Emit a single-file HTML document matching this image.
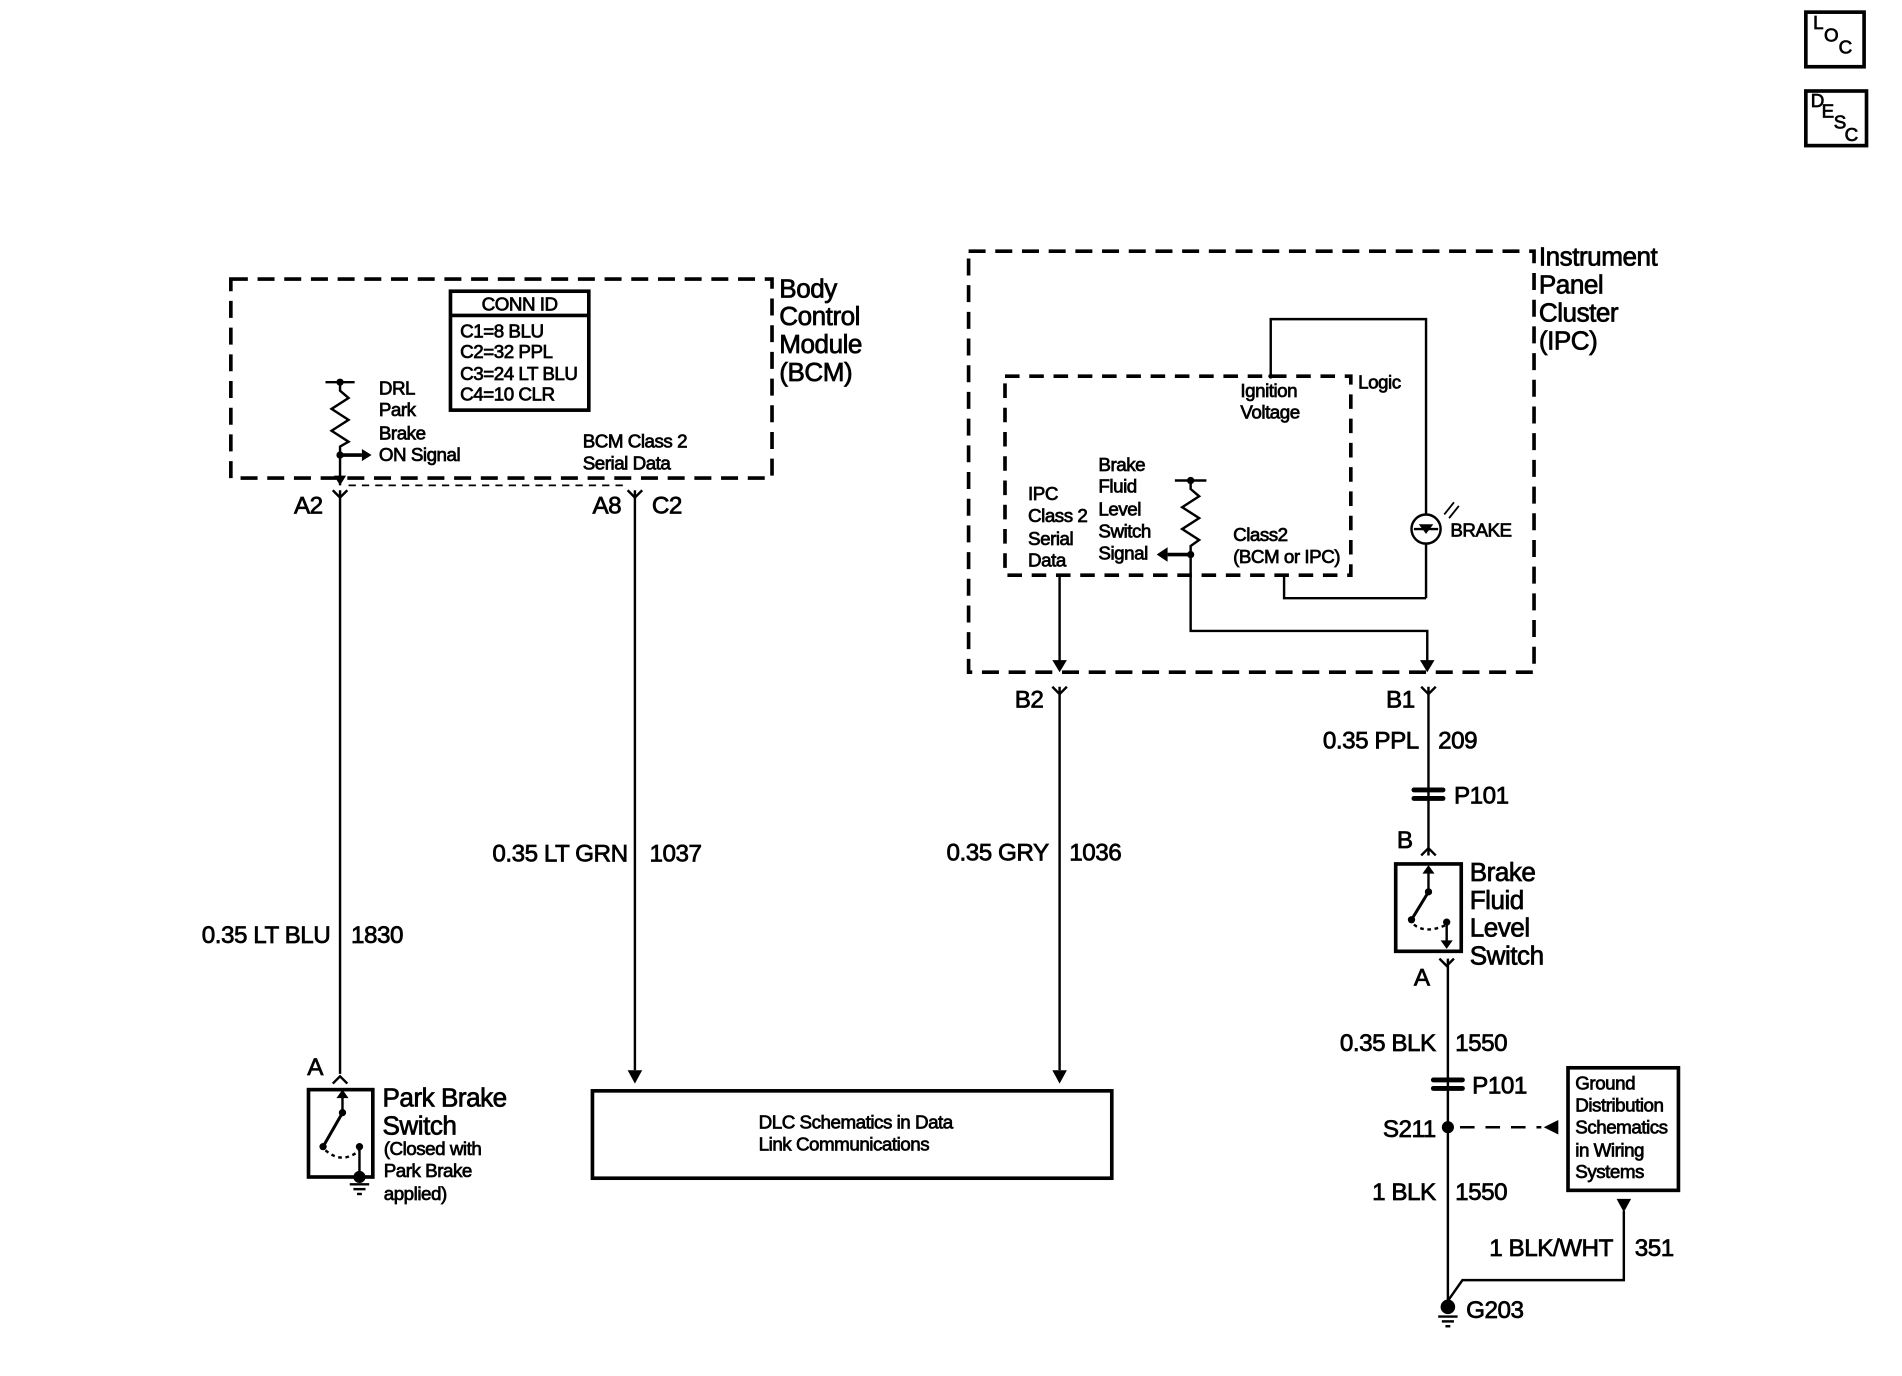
<!DOCTYPE html>
<html><head><meta charset="utf-8"><style>
html,body{margin:0;padding:0;background:#fff;}
svg{display:block}
text{font-family:"Liberation Sans",Arial,sans-serif;fill:#000;stroke:#000;stroke-width:0.6;letter-spacing:-0.4px}
.s{font-size:15.5px}
.m{font-size:20px}
.l{font-size:21.5px}
</style></head><body>
<svg width="1902" height="1376" viewBox="0 0 1567 1134" xmlns="http://www.w3.org/2000/svg">
<g fill="none" stroke="#000" stroke-width="2">
<rect x="1488" y="10" width="48" height="45" stroke-width="3"/>
<rect x="1488" y="75" width="50" height="45" stroke-width="3"/>
<rect x="190" y="230" width="446" height="164" stroke-width="3" stroke-dasharray="14,8"/>
<rect x="371" y="240" width="114" height="98" stroke-width="3"/>
<line x1="371" y1="260" x2="485" y2="260" stroke-width="3"/>
<line x1="268" y1="315" x2="292" y2="315"/>
<polyline points="280,315 280,322 287,328 273,337 287,346 273,355 287,364 280,368 280,400"/>
<line x1="280" y1="375" x2="298" y2="375" stroke-width="3"/>
<line x1="287" y1="400" x2="518" y2="400" stroke-dasharray="6,5" stroke-width="1.5"/>
<polyline points="274,404 280,410 286,404"/>
<line x1="280" y1="404" x2="280" y2="885"/>
<polyline points="274,893 280,887 286,893"/>
<polyline points="517,404 523,410 529,404"/>
<line x1="523" y1="404" x2="523" y2="882"/>
<rect x="254" y="898" width="53" height="72" stroke-width="3"/>
<line x1="282" y1="917" x2="282" y2="902"/>
<line x1="282" y1="917" x2="266" y2="945" stroke-width="2.5"/>
<path d="M268,948 Q282,960 296,948" stroke-dasharray="3,3"/>
<line x1="296" y1="945" x2="296" y2="968"/>
<line x1="288" y1="976" x2="304" y2="976"/>
<line x1="291" y1="980" x2="301" y2="980"/>
<line x1="294" y1="984" x2="298" y2="984"/>
<rect x="488" y="899" width="428" height="72" stroke-width="3"/>
<rect x="798" y="207" width="466" height="347" stroke-width="3" stroke-dasharray="14,8"/>
<rect x="828" y="310" width="285" height="164" stroke-width="3" stroke-dasharray="12,8"/>
<polyline points="1047,310 1047,263 1175,263 1175,424"/>
<circle cx="1175" cy="436" r="12"/>
<line x1="1175" y1="448" x2="1175" y2="493"/>
<polyline points="1175,493 1058,493 1058,474"/>
<line x1="1165" y1="436" x2="1185" y2="436" stroke-width="2"/>
<line x1="1190" y1="424" x2="1198" y2="414" stroke-width="1.5"/>
<line x1="1194" y1="427" x2="1202" y2="417" stroke-width="1.5"/>
<line x1="968" y1="396" x2="994" y2="396"/>
<polyline points="981,396 981,403 988,409 974,418 988,427 974,436 988,445 981,450 981,520 1176,520 1176,550"/>
<line x1="981" y1="457" x2="962" y2="457" stroke-width="3"/>
<line x1="873" y1="474" x2="873" y2="550"/>
<polyline points="867,566 873,572 879,566"/>
<line x1="873" y1="566" x2="873" y2="882"/>
<polyline points="1171,566 1177,572 1183,566"/>
<line x1="1177" y1="566" x2="1177" y2="705"/>
<polyline points="1171,705 1177,699 1183,705"/>
<rect x="1150" y="712" width="54" height="72" stroke-width="3"/>
<line x1="1177" y1="716" x2="1177" y2="735"/>
<line x1="1177" y1="735" x2="1163" y2="758" stroke-width="2.5"/>
<path d="M1165,762 Q1175,770 1192,762" stroke-dasharray="3,3"/>
<line x1="1192" y1="760" x2="1192" y2="780"/>
<polyline points="1186,790 1192,796 1198,790"/>
<line x1="1193" y1="790" x2="1193" y2="1075"/>
<line x1="1203" y1="929" x2="1270" y2="929" stroke-dasharray="12,9"/>
<rect x="1292" y="880" width="91" height="101" stroke-width="3"/>
<polyline points="1338,998 1338,1055 1205,1055 1193,1072"/>
<line x1="1185" y1="1085" x2="1201" y2="1085"/>
<line x1="1188" y1="1089" x2="1198" y2="1089"/>
<line x1="1191" y1="1093" x2="1195" y2="1093"/>
</g>
<g fill="#000" stroke="none">
<circle cx="280" cy="315" r="3"/><circle cx="280" cy="375" r="3"/>
<polygon points="298,370 306,375 298,380"/>
<polygon points="275,392 280,400 285,392"/>
<polygon points="517,882 523,893 529,882"/>
<polygon points="277,905 282,898 287,905"/>
<circle cx="282" cy="917" r="3"/><circle cx="266" cy="945" r="3"/><circle cx="296" cy="945" r="3"/>
<circle cx="296" cy="970" r="5"/>
<circle cx="1047" cy="310" r="2"/>
<circle cx="981" cy="396" r="3"/><circle cx="981" cy="457" r="3"/>
<polygon points="962,451 953,457 962,463"/>
<polygon points="1169,432 1181,432 1175,440"/>
<polygon points="867,544 873,554 879,544"/>
<polygon points="1170,544 1176,554 1182,544"/>
<polygon points="867,882 873,893 879,882"/>
<rect x="1163" y="649" width="28" height="4" rx="2"/><rect x="1163" y="656" width="28" height="4" rx="2"/>
<rect x="1179" y="888" width="28" height="4" rx="2"/><rect x="1179" y="895" width="28" height="4" rx="2"/>
<polygon points="1172,720 1177,713 1182,720"/><circle cx="1177" cy="735" r="3"/><circle cx="1163" cy="758" r="3"/><circle cx="1192" cy="760" r="3"/>
<polygon points="1187,775 1192,782 1197,775"/>
<circle cx="1193" cy="929" r="5"/>
<polygon points="1284,923 1272,929 1284,935"/>
<polygon points="1332,988 1344,988 1338,999"/>
<circle cx="1193" cy="1077" r="6"/>
</g>
<text class="s" x="1494" y="24">L</text><text class="s" x="1503" y="34">O</text><text class="s" x="1515" y="44">C</text>
<text class="s" x="1492" y="88">D</text><text class="s" x="1501" y="97">E</text><text class="s" x="1511" y="106">S</text><text class="s" x="1520" y="116">C</text>
<text class="l" x="642" y="245">Body</text><text class="l" x="642" y="268">Control</text><text class="l" x="642" y="291">Module</text><text class="l" x="642" y="314">(BCM)</text>
<text class="s" x="428" y="256" text-anchor="middle">CONN ID</text>
<text class="s" x="379" y="278">C1=8 BLU</text><text class="s" x="379" y="295">C2=32 PPL</text><text class="s" x="379" y="313">C3=24 LT BLU</text><text class="s" x="379" y="330">C4=10 CLR</text>
<text class="s" x="312" y="325">DRL</text><text class="s" x="312" y="343">Park</text><text class="s" x="312" y="362">Brake</text><text class="s" x="312" y="380">ON Signal</text>
<text class="s" x="480" y="369">BCM Class 2</text><text class="s" x="480" y="387">Serial Data</text>
<text class="m" x="242" y="423">A2</text><text class="m" x="488" y="423">A8</text><text class="m" x="537" y="423">C2</text>
<text class="m" x="272" y="777" text-anchor="end">0.35 LT BLU</text><text class="m" x="289" y="777">1830</text>
<text class="m" x="517" y="710" text-anchor="end">0.35 LT GRN</text><text class="m" x="535" y="710">1037</text>
<text class="m" x="864" y="709" text-anchor="end">0.35 GRY</text><text class="m" x="881" y="709">1036</text>
<text class="m" x="253" y="886">A</text>
<text class="l" x="315" y="912">Park Brake</text><text class="l" x="315" y="935">Switch</text>
<text class="s" x="316" y="952">(Closed with</text><text class="s" x="316" y="970">Park Brake</text><text class="s" x="316" y="989">applied)</text>
<text class="s" x="625" y="930">DLC Schematics in Data</text><text class="s" x="625" y="948">Link Communications</text>
<text class="l" x="1268" y="219">Instrument</text><text class="l" x="1268" y="242">Panel</text><text class="l" x="1268" y="265">Cluster</text><text class="l" x="1268" y="288">(IPC)</text>
<text class="s" x="1119" y="320">Logic</text>
<text class="s" x="1022" y="327">Ignition</text><text class="s" x="1022" y="345">Voltage</text>
<text class="s" x="1195" y="442">BRAKE</text>
<text class="s" x="847" y="412">IPC</text><text class="s" x="847" y="430">Class 2</text><text class="s" x="847" y="449">Serial</text><text class="s" x="847" y="467">Data</text>
<text class="s" x="905" y="388">Brake</text><text class="s" x="905" y="406">Fluid</text><text class="s" x="905" y="425">Level</text><text class="s" x="905" y="443">Switch</text><text class="s" x="905" y="461">Signal</text>
<text class="s" x="1016" y="446">Class2</text><text class="s" x="1016" y="464">(BCM or IPC)</text>
<text class="m" x="836" y="583">B2</text><text class="m" x="1142" y="583">B1</text>
<text class="m" x="1169" y="617" text-anchor="end">0.35 PPL</text><text class="m" x="1185" y="617">209</text>
<text class="m" x="1198" y="662">P101</text>
<text class="m" x="1151" y="699">B</text>
<text class="l" x="1211" y="726">Brake</text><text class="l" x="1211" y="749">Fluid</text><text class="l" x="1211" y="772">Level</text><text class="l" x="1211" y="795">Switch</text>
<text class="m" x="1165" y="812">A</text>
<text class="m" x="1183" y="866" text-anchor="end">0.35 BLK</text><text class="m" x="1199" y="866">1550</text>
<text class="m" x="1213" y="901">P101</text>
<text class="m" x="1183" y="937" text-anchor="end">S211</text>
<text class="s" x="1298" y="898">Ground</text><text class="s" x="1298" y="916">Distribution</text><text class="s" x="1298" y="934">Schematics</text><text class="s" x="1298" y="953">in Wiring</text><text class="s" x="1298" y="971">Systems</text>
<text class="m" x="1183" y="989" text-anchor="end">1 BLK</text><text class="m" x="1199" y="989">1550</text>
<text class="m" x="1329" y="1035" text-anchor="end">1 BLK/WHT</text><text class="m" x="1347" y="1035">351</text>
<text class="m" x="1208" y="1086">G203</text>
</svg>
</body></html>
